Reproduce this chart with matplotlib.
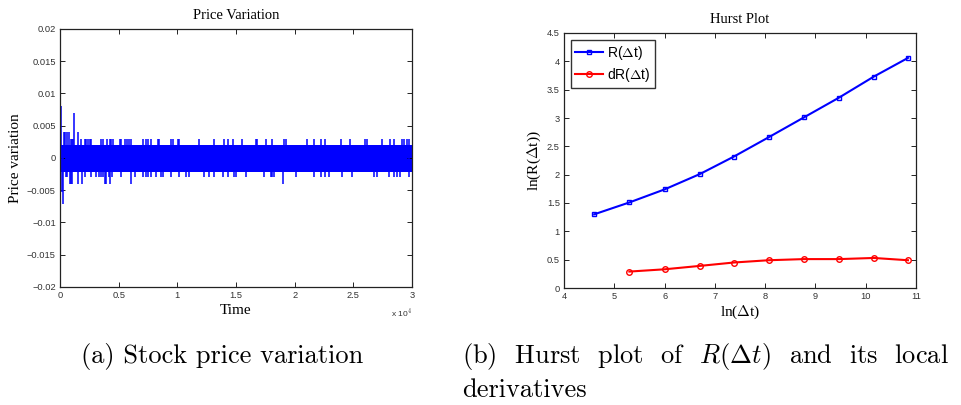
import matplotlib
matplotlib.use('Agg')
import matplotlib.pyplot as plt

plt.rcParams['mathtext.fontset'] = 'cm'

# Price variation (time in units of 1e4)
band_t = [0.0, 3.0]
band_lo = [-0.0021, -0.0021]
band_hi = [0.002, 0.002]

# spikes reaching +0.003
up_t = [0.09, 0.10, 0.11, 0.176, 0.211, 0.225, 0.239, 0.253, 0.267, 0.352, 0.366, 0.403,
        0.423, 0.437, 0.452, 0.508, 0.522, 0.551, 0.574, 0.585, 0.602, 0.707, 0.736,
        0.748, 0.776, 0.833, 0.847, 0.946, 0.961, 1.003, 1.017, 1.188, 1.315, 1.401,
        1.429, 1.472, 1.554, 1.668, 1.682, 1.754, 1.81, 1.91, 1.924, 2.108, 2.165,
        2.222, 2.257, 2.398, 2.475, 2.603, 2.617, 2.745, 2.816, 2.845, 2.916, 2.93,
        2.958, 2.978]
# spikes reaching -0.003
dn_t = [0.05, 0.06, 0.21, 0.26, 0.31, 0.33, 0.35, 0.37, 0.42, 0.44, 0.52, 0.636, 0.707,
        0.736, 0.748, 0.776, 0.818, 0.861, 0.876, 0.946, 1.017, 1.074, 1.102, 1.23,
        1.273, 1.315, 1.387, 1.429, 1.486, 1.498, 1.583, 1.739, 1.796, 1.81, 1.824,
        2.009, 2.165, 2.222, 2.262, 2.291, 2.404, 2.489, 2.674, 2.702, 2.802, 2.845,
        2.873, 2.901, 2.973]
# larger excursions
big_t = [0.005, 0.015, 0.028, 0.03, 0.045, 0.06, 0.075, 0.085, 0.095, 0.105, 0.122,
         0.153, 0.156, 0.19, 0.38, 0.39, 0.43, 0.608, 1.904]
big_v = [0.008, -0.0052, -0.0072, 0.004, 0.004, 0.004, 0.004, -0.004, -0.004, -0.004,
         0.007, 0.004, -0.004, -0.004, -0.004, -0.004, -0.004, -0.004, -0.0041]
up_v = 0.003
dn_v = -0.003

price_yticks = [-0.02, -0.015, -0.01, -0.005, 0, 0.005, 0.01, 0.015, 0.02]
price_ylabels = ['\u22120.02', '\u22120.015', '\u22120.01', '\u22120.005', '0',
                 '0.005', '0.01', '0.015', '0.02']
price_xticks = [0, 0.5, 1, 1.5, 2, 2.5, 3]
price_xlabels = ['0', '0.5', '1', '1.5', '2', '2.5', '3']

# Hurst plot
ln_dt = [4.6, 5.3, 6.0, 6.7, 7.38, 8.07, 8.77, 9.47, 10.16, 10.84]
R = [1.30, 1.51, 1.74, 2.01, 2.32, 2.66, 3.01, 3.36, 3.73, 4.06]
dR_x = ln_dt[1:]
dR = [0.29, 0.33, 0.39, 0.45, 0.49, 0.51, 0.51, 0.53, 0.49]

sans = 'Liberation Sans'
serif = 'Liberation Serif'

fig = plt.figure(figsize=(9.62, 4.05), dpi=100)

def style(ax):
    ax.tick_params(direction='in', top=True, right=True, length=3.5, width=0.6,
                   labelsize=6.7, pad=3)
    for lab in ax.get_xticklabels() + ax.get_yticklabels():
        lab.set_fontfamily(sans)
        lab.set_color('#333333')
    for s in ax.spines.values():
        s.set_linewidth(0.9)
        s.set_color('#222222')

# (a) price variation
ax1 = fig.add_axes([60 / 962, 1 - 287 / 405, 352 / 962, 258 / 405])
ax1.fill_between(band_t, band_lo, band_hi, color='#0000ff', lw=0)
ax1.vlines(up_t, 0, up_v, colors='#0000ff', lw=1.1)
ax1.vlines(dn_t, dn_v, 0, colors='#0000ff', lw=1.1)
ax1.vlines(big_t, 0, big_v, colors='#0000ff', lw=1.1)
ax1.set_xlim(0, 3)
ax1.set_ylim(-0.02, 0.02)
ax1.set_xticks(price_xticks)
ax1.set_xticklabels(price_xlabels)
ax1.set_yticks(price_yticks)
ax1.set_yticklabels(price_ylabels)
style(ax1)
ax1.set_title('Price Variation', fontfamily=serif, fontsize=10.5, pad=7)
ax1.set_xlabel('Time', fontfamily=serif, fontsize=11)
ax1.xaxis.set_label_coords(0.5, -0.066)
ax1.xaxis.label.set_va('top')
ax1.set_ylabel('Price variation', fontfamily=serif, fontsize=11)
ax1.yaxis.set_label_coords(-0.108, 0.5)
ax1.text(1.0, -0.075, r'x 10$^4$', transform=ax1.transAxes, fontsize=6,
         fontfamily=sans, ha='right', va='top', color='#333333')

# (b) Hurst plot
ax2 = fig.add_axes([564 / 962, 1 - 288 / 405, 352 / 962, 255 / 405])
ax2.plot(ln_dt, R, '-s', color='#0000ff', lw=1.5, ms=3.5, mfc='none', mew=1.0,
         label=r'R($\Delta$t)')
ax2.plot(dR_x, dR, '-o', color='#ff0000', lw=1.5, ms=4, mfc='none', mew=1.0,
         label=r'dR($\Delta$t)')
ax2.set_xlim(4, 11)
ax2.set_ylim(0, 4.5)
ax2.set_xticks(range(4, 12))
ax2.set_yticks([0, 0.5, 1, 1.5, 2, 2.5, 3, 3.5, 4, 4.5])
ax2.set_yticklabels(['0', '0.5', '1', '1.5', '2', '2.5', '3', '3.5', '4', '4.5'])
style(ax2)
ax2.set_title('Hurst Plot', fontfamily=serif, fontsize=10.5, pad=7)
ax2.set_xlabel(r'ln($\Delta$t)', fontfamily=serif, fontsize=11)
ax2.xaxis.set_label_coords(0.5, -0.063)
ax2.xaxis.label.set_va('top')
ax2.set_ylabel(r'ln(R($\Delta$t))', fontfamily=serif, fontsize=11)
ax2.yaxis.set_label_coords(-0.06, 0.5)
leg = ax2.legend(loc='upper left', prop={'family': sans, 'size': 10},
                 fancybox=False, edgecolor='black', handlelength=2.0,
                 borderpad=0.3, labelspacing=0.3, handletextpad=0.3,
                 borderaxespad=0.5)
leg.get_frame().set_linewidth(1.0)

# captions
fig.text(81 / 962, 1 - 357 / 405, '(a) Stock price variation', fontfamily='cmr10',
         fontsize=19, va='center', ha='left')
fig.text(462 / 962, 1 - 357 / 405, r'(b)  Hurst  plot  of  $R(\Delta t)$  and  its  local',
         fontfamily='cmr10', fontsize=19, va='center', ha='left')
fig.text(462 / 962, 1 - 390 / 405, 'derivatives', fontfamily='cmr10',
         fontsize=19, va='center', ha='left')

fig.savefig('out.png', dpi=100)
